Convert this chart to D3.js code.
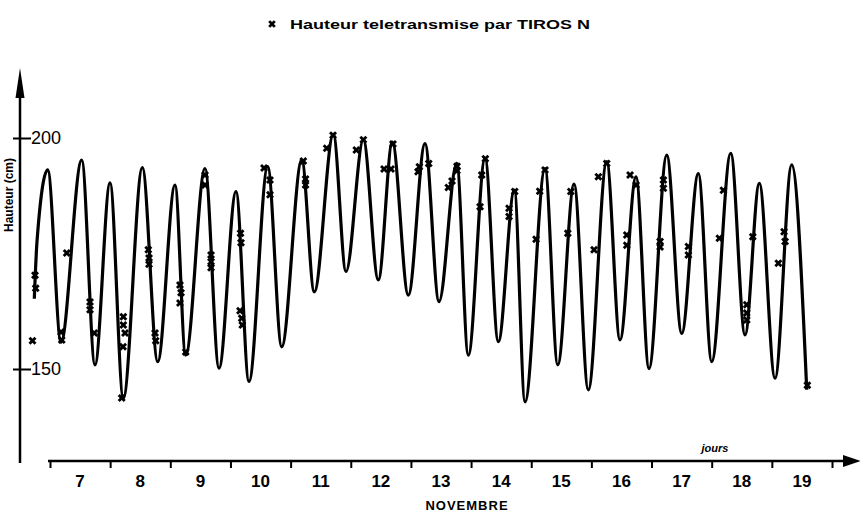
<!DOCTYPE html>
<html>
<head>
<meta charset="utf-8">
<script src="https://cdn.jsdelivr.net/npm/d3@7"></script>
<style>
  body { margin: 0; background: #fff; }
  svg { display: block; font-family: "Liberation Sans", Arial, sans-serif; }
</style>
</head>
<body>
<svg class="chart" width="860" height="512"></svg>
<script>

// Tide curve: extrema (day of November, height in cm).
var curveDays = [6.739, 6.784, 6.962, 7.183, 7.527, 7.748, 7.998, 8.219, 8.535, 8.791,
  9.078, 9.256, 9.577, 9.810, 10.092, 10.308, 10.619, 10.852, 11.185, 11.394,
  11.710, 11.921, 12.209, 12.458, 12.691, 12.957, 13.234, 13.467, 13.761, 13.954,
  14.232, 14.453, 14.719, 14.897, 15.229, 15.441, 15.712, 15.949, 16.255, 16.476,
  16.742, 16.958, 17.253, 17.502, 17.778, 18.001, 18.317, 18.554, 18.792, 19.053,
  19.330, 19.580];
var curveHeights = [165.2, 177.6, 193.1, 155.8, 195.2, 150.9, 190.3, 143.7, 193.6, 151.6,
  189.8, 153.0, 193.4, 150.2, 188.4, 147.3, 193.8, 154.8, 195.2, 166.7,
  200.8, 171.1, 199.6, 169.3, 199.1, 166.0, 198.8, 164.6, 194.5, 153.0,
  195.6, 155.9, 188.7, 142.9, 193.4, 150.9, 190.0, 145.5, 194.9, 156.3,
  191.6, 150.1, 196.3, 157.7, 192.3, 151.6, 196.7, 157.4, 190.2, 148.0,
  194.2, 145.5];

// Heights transmitted by TIROS N (crosses).
var markDays = [6.751, 6.762, 6.709, 7.183, 7.195, 7.278, 7.665, 7.665, 7.736, 8.219,
  8.219, 8.247, 8.214, 8.192, 8.634, 8.646, 8.646, 8.746, 8.757, 9.161,
  9.178, 9.161, 9.256, 9.577, 9.577, 9.677, 9.677, 9.677, 10.167, 10.175,
  10.159, 10.187, 10.197, 10.558, 10.657, 10.657, 11.211, 11.248, 11.248, 11.600,
  11.705, 12.092, 12.209, 12.553, 12.669, 12.702, 13.118, 13.140, 13.296, 13.622,
  13.683, 13.766, 13.766, 14.149, 14.177, 14.237, 14.631, 14.631, 14.726, 15.080,
  15.141, 15.229, 15.608, 15.658, 16.044, 16.116, 16.255, 16.588, 16.588, 16.643,
  16.743, 17.142, 17.142, 17.197, 17.197, 17.612, 17.612, 18.127, 18.194, 18.583,
  18.583, 18.583, 18.683, 19.108, 19.203, 19.220, 19.590];
var markHeights = [170.3, 167.5, 156.1, 158.0, 156.3, 175.1, 164.5, 162.8, 157.8, 161.3,
  159.5, 157.8, 154.8, 143.7, 175.8, 174.0, 172.7, 157.8, 156.1, 168.2,
  166.5, 164.3, 153.7, 192.0, 189.8, 174.7, 173.2, 171.9, 179.4, 177.3,
  162.6, 161.0, 159.5, 193.5, 190.9, 187.7, 195.0, 191.1, 189.8, 197.8,
  200.6, 197.4, 199.6, 193.3, 193.3, 198.7, 192.7, 193.8, 194.5, 189.3,
  190.7, 193.9, 192.9, 185.1, 192.0, 195.5, 184.8, 183.0, 188.4, 178.1,
  188.5, 193.1, 179.4, 188.4, 175.8, 191.6, 194.5, 179.0, 176.8, 192.0,
  189.8, 177.6, 176.4, 190.9, 189.1, 176.5, 174.7, 178.3, 188.7, 163.9,
  162.1, 160.6, 178.6, 172.9, 179.7, 177.6, 146.5];

var dayTicks = [7, 8, 9, 10, 11, 12, 13, 14, 15, 16, 17, 18, 19, 20];
var dayLabels = ["7", "8", "9", "10", "11", "12", "13", "14", "15", "16", "17", "18", "19"];
var heightTicks = [150, 200];

var svg = d3.select(".chart");

var x = d3.scaleLinear()
    .domain([7, 20])
    .range([50, 832]);

var y = d3.scaleLinear()
    .domain([150, 200])
    .range([369, 138]);

var axisX = 20,
    axisY = 461;

// Title with its cross.
svg.append("path")
    .attr("d", d3.symbol().type(d3.symbolCross).size(36)())
    .attr("transform", "translate(272,24) rotate(45)")
    .attr("fill", "#000");

svg.append("text")
    .attr("x", 290)
    .attr("y", 29)
    .attr("font-size", 13)
    .attr("font-weight", "bold")
    .attr("textLength", 300)
    .attr("lengthAdjust", "spacingAndGlyphs")
    .text("Hauteur teletransmise par TIROS N");

// Y axis line with arrow.
svg.append("line")
    .attr("x1", axisX).attr("x2", axisX)
    .attr("y1", 90).attr("y2", 463)
    .attr("stroke", "#000")
    .attr("stroke-width", 2.5);

svg.append("path")
    .attr("d", "M" + axisX + ",68 L" + (axisX - 4.5) + ",98 L" + (axisX + 4.5) + ",98 Z")
    .attr("fill", "#000");

var yAxis = svg.append("g")
    .attr("transform", "translate(" + (axisX - 7) + ",0)")
    .call(d3.axisRight(y).tickValues(heightTicks).tickSize(18).tickPadding(0));

yAxis.select(".domain").remove();
yAxis.selectAll("line").attr("stroke", "#000").attr("stroke-width", 2);
yAxis.selectAll("text")
    .attr("font-size", 18)
    .attr("font-family", "Liberation Sans Narrow, Liberation Sans, sans-serif")
    .attr("fill", "#000");

svg.append("text")
    .attr("transform", "translate(13,195) rotate(-90)")
    .attr("text-anchor", "middle")
    .attr("font-size", 12)
    .attr("font-weight", "bold")
    .text("Hauteur (cm)");

// X axis line with arrow.
svg.append("line")
    .attr("x1", x(7) - 2).attr("x2", 846)
    .attr("y1", axisY).attr("y2", axisY)
    .attr("stroke", "#000")
    .attr("stroke-width", 2.5);

svg.append("path")
    .attr("d", "M861," + axisY + " L843," + (axisY - 6) + " L843," + (axisY + 6) + " Z")
    .attr("fill", "#000");

var xAxis = svg.append("g")
    .attr("transform", "translate(0," + axisY + ")")
    .call(d3.axisBottom(x).tickValues(dayTicks).tickSize(7).tickFormat(""));

xAxis.select(".domain").remove();
xAxis.selectAll("line").attr("stroke", "#000").attr("stroke-width", 2);

svg.selectAll(".daylabel")
    .data(dayLabels)
  .enter().append("text")
    .attr("class", "daylabel")
    .attr("x", function(d) { return x(+d + 0.5); })
    .attr("y", 487)
    .attr("text-anchor", "middle")
    .attr("font-size", 17)
    .attr("font-weight", "bold")
    .attr("font-family", "Liberation Sans Narrow, Liberation Sans, sans-serif")
    .text(function(d) { return d; });

svg.append("text")
    .attr("x", 467)
    .attr("y", 510)
    .attr("text-anchor", "middle")
    .attr("font-size", 13)
    .attr("font-weight", "bold")
    .attr("letter-spacing", 1)
    .text("NOVEMBRE");

svg.append("text")
    .attr("x", 715)
    .attr("y", 452)
    .attr("text-anchor", "middle")
    .attr("font-size", 11)
    .attr("font-weight", "bold")
    .attr("font-style", "italic")
    .text("jours");

// Tide curve.
var line = d3.line()
    .x(function(d, i) { return x(curveDays[i]); })
    .y(function(d) { return y(d); })
    .curve(d3.curveMonotoneX);

svg.append("path")
    .datum(curveHeights)
    .attr("d", line)
    .attr("fill", "none")
    .attr("stroke", "#000")
    .attr("stroke-width", 3.2)
    .attr("stroke-linejoin", "round");

// Transmitted heights.
svg.selectAll(".mark")
    .data(markHeights)
  .enter().append("path")
    .attr("class", "mark")
    .attr("d", d3.symbol().type(d3.symbolCross).size(40))
    .attr("transform", function(d, i) {
        return "translate(" + x(markDays[i]) + "," + y(d) + ") rotate(45)";
    })
    .attr("fill", "#000");

</script>
</body>
</html>
